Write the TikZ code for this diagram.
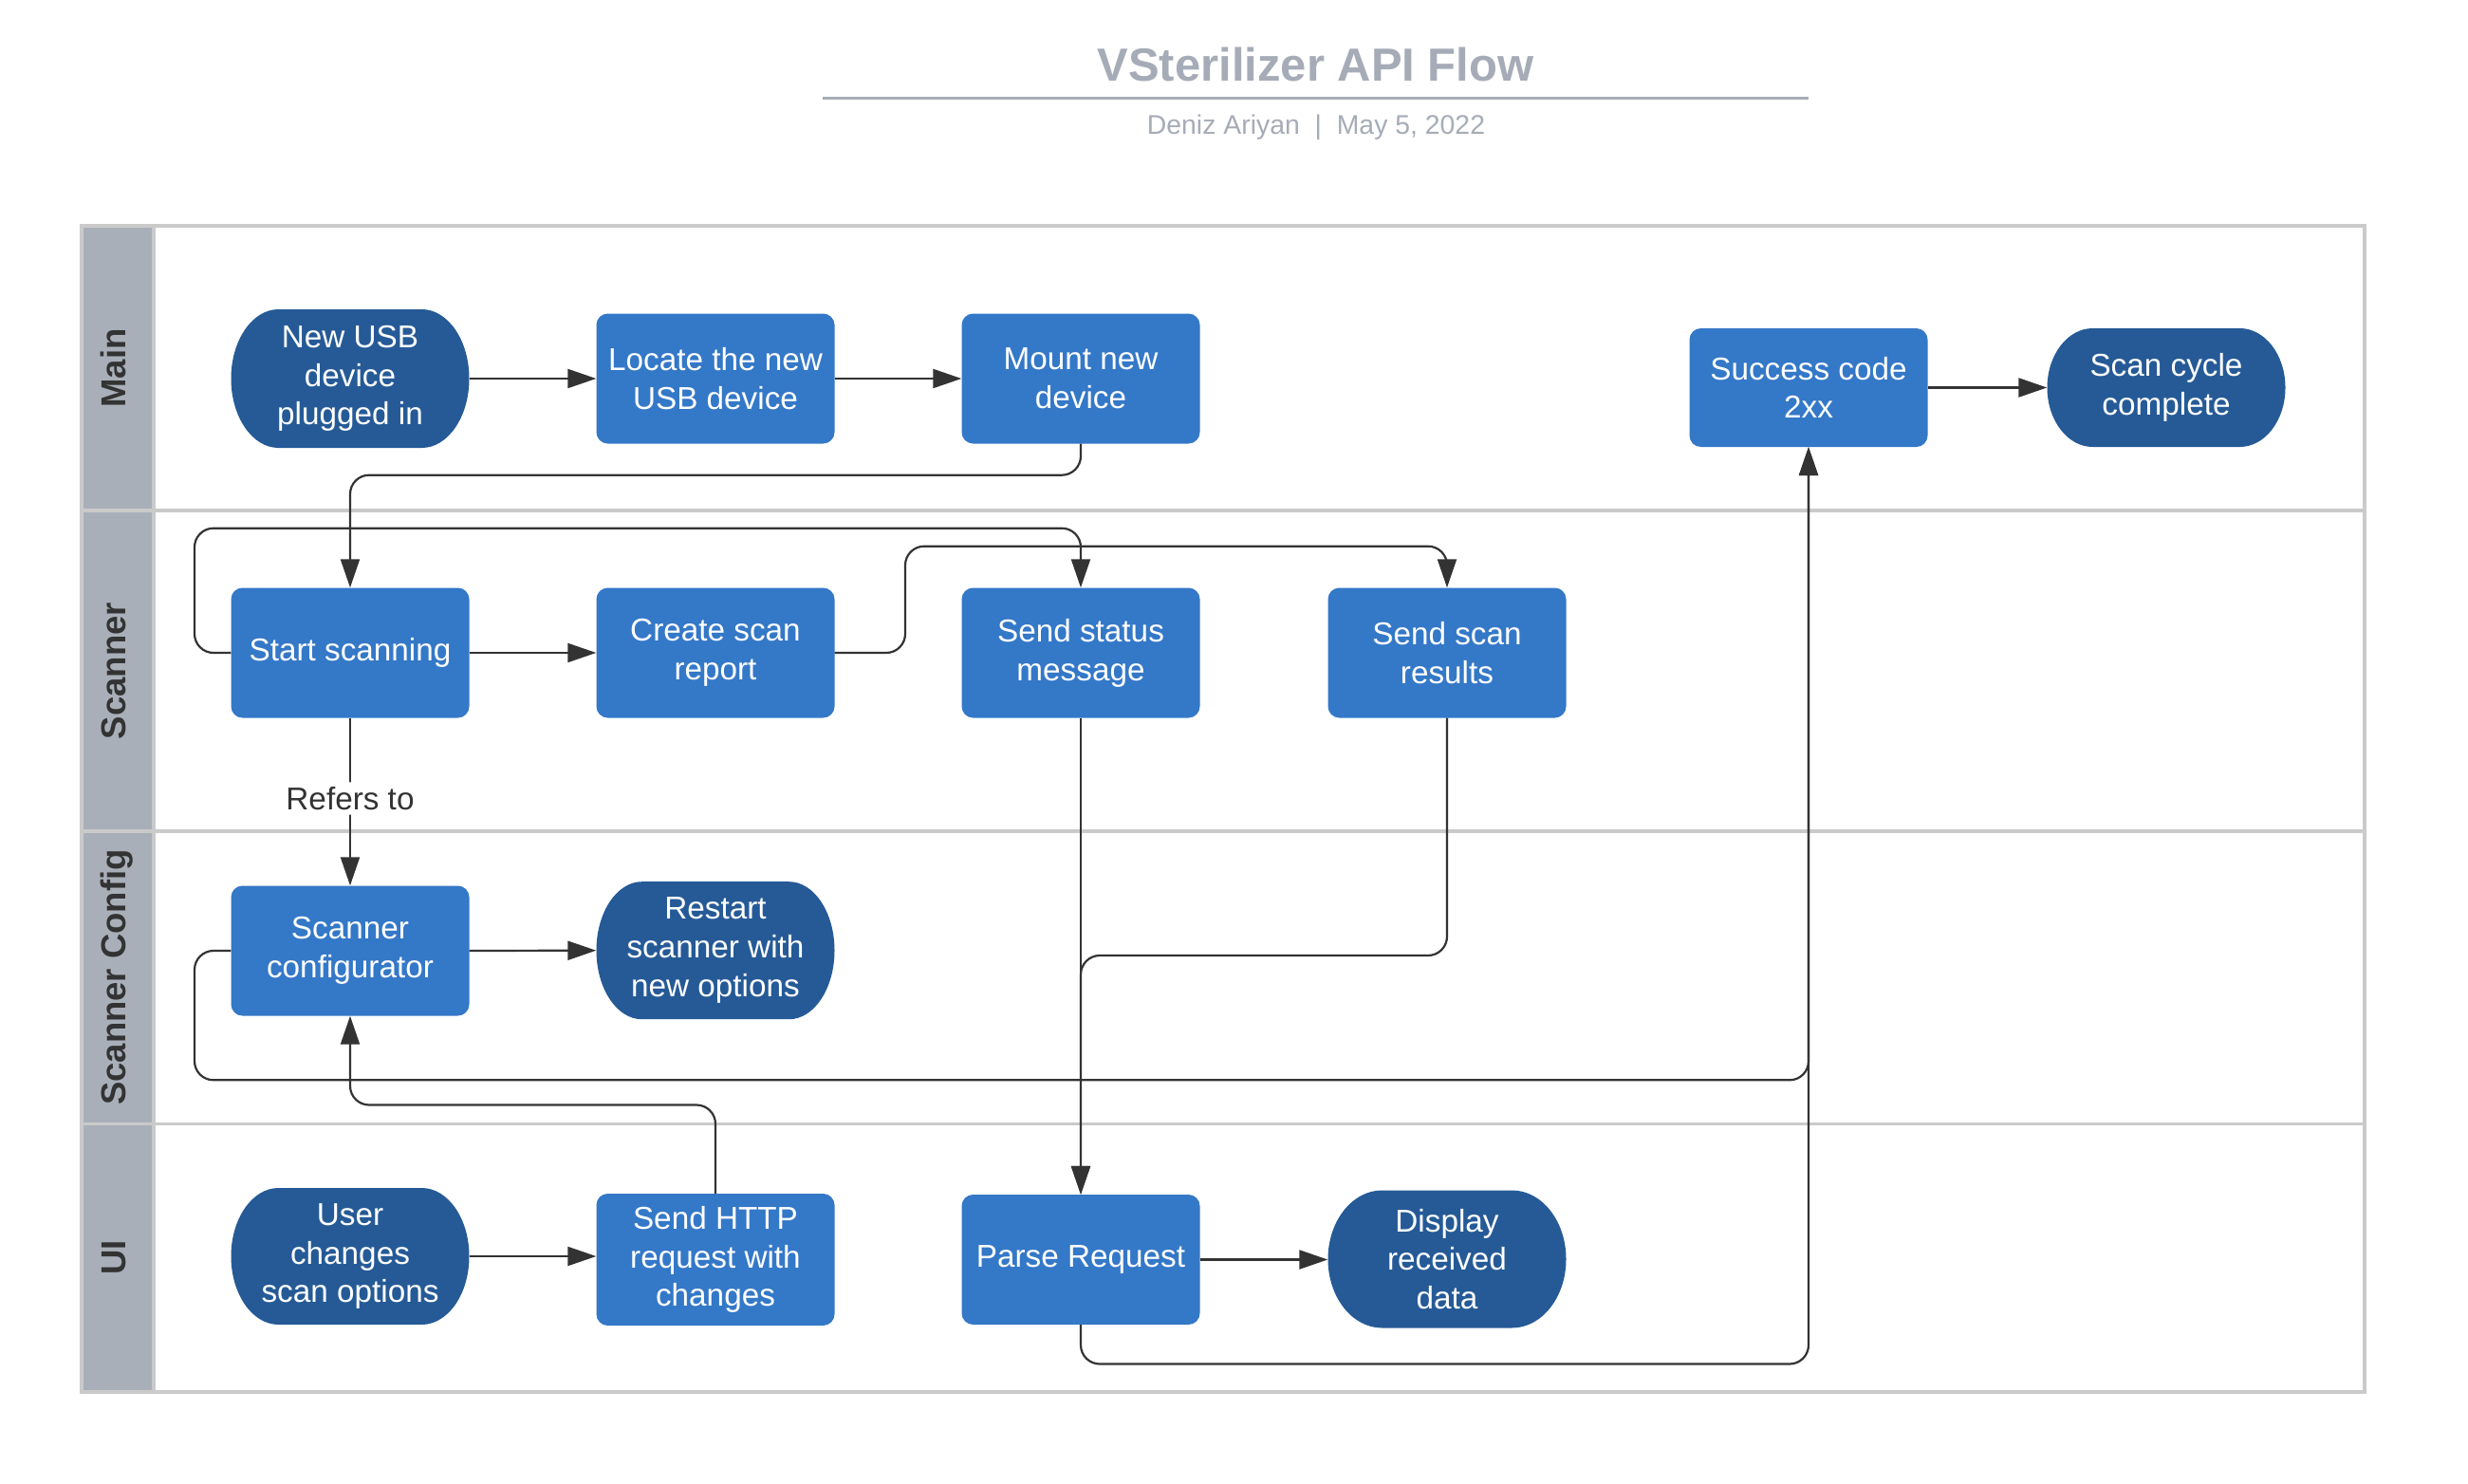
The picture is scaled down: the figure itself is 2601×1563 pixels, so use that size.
\documentclass[tikz,border=0pt]{standalone}
\usepackage{fontspec}
\setmainfont{Liberation Sans}
\usetikzlibrary{arrows.meta}
\definecolor{boxblue}{HTML}{3478C8}
\definecolor{pillblue}{HTML}{255A97}
\definecolor{stripgray}{HTML}{A9AFB9}
\definecolor{bordergray}{HTML}{CACACA}
\definecolor{linecol}{HTML}{333333}
\definecolor{titlegray}{HTML}{A6ACB7}
\newcommand\nodefont{\fontsize{33.3}{40.8}\selectfont}
\newcommand\mkpill[7]{%
  \fill[pillblue] (#2-125.5+#6,#3+#5) -- (#2+125.5-#6,#3+#5)
    arc[start angle=90,end angle=-90,x radius=#6pt,y radius=#5pt]
    -- (#2-125.5+#6,#3-#5)
    arc[start angle=270,end angle=90,x radius=#6pt,y radius=#5pt] -- cycle;
  \node[pilltext,minimum height=#4pt] (#1) at (#2,#3) {#7};}
\begin{document}
\begin{tikzpicture}[x=1pt,y=1pt,
  boxn/.style={fill=boxblue, rounded corners=12pt, minimum width=251pt, minimum height=137pt,
    text=white, align=center, inner sep=0pt, font=\nodefont},
  pilltext/.style={minimum width=251pt, text=white, align=center, inner sep=0pt, font=\nodefont},
  conn/.style={draw=linecol, line width=2.2pt, rounded corners=20pt},
  arr/.style={conn, -{Triangle[length=30pt,width=20pt]}},
  lanelabel/.style={rotate=90, anchor=base, text=linecol, inner sep=0pt,
    font=\fontsize{36.5}{40}\selectfont\bfseries},
  laneline/.style={draw=bordergray, line width=3.5pt}]
\useasboundingbox (0,0) rectangle (2601,-1563);
\fill[white] (0,0) rectangle (2601,-1563);

% title
\node[anchor=base, text=titlegray, inner sep=0pt, font=\fontsize{49}{55}\selectfont\bfseries] (title) at (1386.5,-85) {VSterilizer API Flow};
\draw[titlegray, line width=3.5pt] (867,-103.3) -- (1906,-103.3);
\node[anchor=base, text=titlegray, inner sep=0pt, font=\fontsize{28.4}{32}\selectfont] (sub) at (1387,-141) {Deniz Ariyan\ \ |\ \ May 5, 2022};

% swimlanes
\fill[stripgray] (86,-238) rectangle (162,-1467);
\draw[laneline] (162,-238) -- (162,-1467);
\draw[laneline] (86,-538) -- (2492,-538);
\draw[laneline] (86,-876) -- (2492,-876);
\draw[laneline] (86,-1184.5) -- (2492,-1184.5);
\draw[draw=bordergray, line width=4pt] (86,-238) rectangle (2492,-1467);
\node[lanelabel] (lmain) at (132.7,-388) {Main};
\node[lanelabel] (lscan) at (132.7,-707) {Scanner};
\node[lanelabel] (lconf) at (132.7,-1030) {Scanner Config};
\node[lanelabel] (lui) at (132.7,-1325.5) {UI};

% nodes
\mkpill{newusb}{369}{-399}{146}{73}{50}{New USB\\device\\plugged in}
\node[boxn] (locate) at (754,-399) {Locate the new\\USB device};
\node[boxn] (mount) at (1139,-399) {Mount new\\device};
\node[boxn, minimum height=125pt] (success) at (1906,-408.5) {Success code\\2xx};
\mkpill{cycle}{2283}{-408.5}{125}{62.5}{48}{Scan cycle\\complete}

\node[boxn] (start) at (369,-688) {Start scanning};
\node[boxn] (create) at (754,-688) {Create scan\\report};
\node[boxn] (status) at (1139,-688) {Send status\\message};
\node[boxn] (results) at (1525,-688) {Send scan\\results};

\node[boxn] (config) at (369,-1002) {Scanner\\configurator};
\mkpill{restart}{754}{-1001.7}{145}{72.5}{48}{Restart\\scanner with\\new options}

\mkpill{user}{369}{-1324}{144}{72}{50}{User\\changes\\scan options}
\node[boxn, minimum height=139pt] (http) at (754,-1327.5) {Send HTTP\\request with\\changes};
\node[boxn] (parse) at (1139,-1327.5) {Parse Request};
\mkpill{display}{1525}{-1327}{145}{72.5}{57}{Display\\received\\data}

% rails
\coordinate (lx) at (205,0);
\coordinate (cx) at (954,0);
\coordinate (r1) at (0,-500.7);
\coordinate (r2) at (0,-556.7);
\coordinate (r3) at (0,-575.7);
\coordinate (r4) at (0,-1007);
\coordinate (r5) at (0,-1138.3);
\coordinate (r6) at (0,-1164.5);
\coordinate (r7) at (0,-1437.5);

% connectors
\draw[arr] (newusb.east) -- (locate.west);
\draw[arr] (locate.east) -- (mount.west);
\draw[arr] (mount.south) |- (start.north |- r1) -- (start.north);
\draw[arr] (start.east) -- (create.west);
\draw[arr] (start.west) -| (lx |- r2) -| (status.north);
\draw[arr] (create.east) -| (cx |- r3) -| (results.north);
\draw[arr] (start.south) -- node[pos=0.48, fill=white, text=linecol, inner sep=5pt, font=\nodefont] (refers) {Refers to} (config.north);
\draw[arr] (config.east) -- (restart.west);
\draw[arr] (config.west) -| (lx |- r5) -| (success.south);
\draw[arr] (status.south) -- (parse.north);
\draw[arr] (results.south) |- (parse.north |- r4) -- (parse.north);
\draw[arr] (http.north) |- (config.south |- r6) -- (config.south);
\draw[arr] (user.east) -- (http.west |- user.east);
\draw[arr] (parse.east) -- (display.west |- parse.east);
\draw[arr] (parse.south) |- (success.south |- r7) -- (success.south);
\draw[arr] (success.east) -- (cycle.west);
\end{tikzpicture}
\end{document}
